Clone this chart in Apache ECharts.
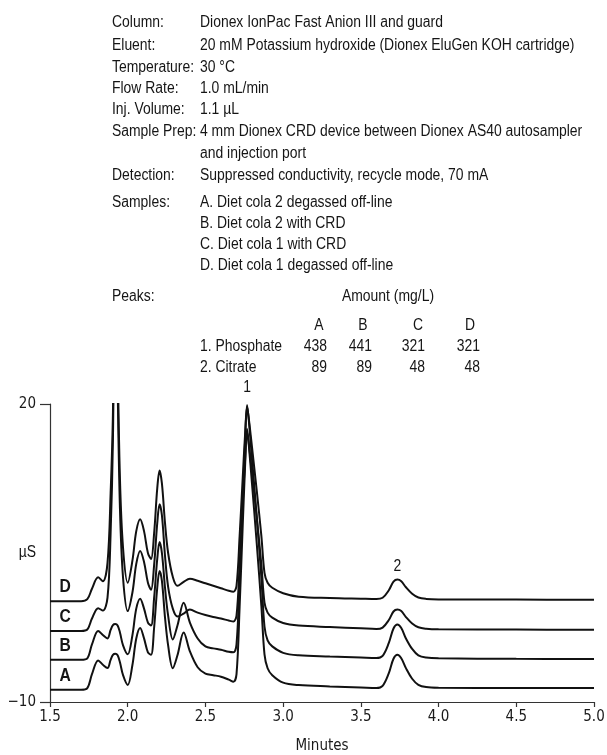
<!DOCTYPE html>
<html><head><meta charset="utf-8">
<script src="https://cdn.jsdelivr.net/npm/echarts@6/dist/echarts.min.js"></script>
<style>html,body{margin:0;padding:0;background:#fff;}#c{width:607px;height:755px;}</style>
</head><body><div id="c"></div>
<script>
const FONT = '"Liberation Sans",Arial,sans-serif';
const AXFONT = '"DejaVu Sans Condensed","Liberation Sans",sans-serif';
const SX = 0.87; // horizontal squeeze to mimic the condensed typeface

// retention time (min)
const times = [1.50,1.70,1.74,1.77,1.81,1.84,1.87,1.89,1.905,1.92,1.935,1.95,1.97,2.00,2.03,2.055,2.08,2.105,2.13,2.15,2.17,2.19,2.205,2.22,2.24,2.26,2.29,2.32,2.36,2.40,2.45,2.50,2.55,2.60,2.65,2.68,2.70,2.72,2.74,2.755,2.768,2.78,2.80,2.83,2.86,2.88,2.90,2.93,3.00,3.10,3.30,3.50,3.60,3.64,3.68,3.71,3.735,3.76,3.79,3.83,3.87,3.92,4.00,4.50,5.00];

// conductivity (µS), offset traces
const traceA = [-8.76,-8.76,-8.6,-7.2,-5.82,-6.25,-6.58,-5.75,-5.25,-5.14,-5.3,-6.0,-7.3,-8.29,-6.3,-3.6,-2.55,-3.6,-5.0,-5.25,-2.5,1.5,3.2,2.2,-1.5,-4.3,-6.6,-5.3,-3.0,-4.9,-6.5,-7.15,-7.3,-7.45,-7.75,-7.95,-7.2,-0.4,7.8,13.7,17.5,15.7,11.9,6.0,-0.35,-5.2,-6.6,-7.3,-8.05,-8.3,-8.43,-8.53,-8.59,-8.37,-7.09,-5.65,-5.25,-5.59,-6.59,-7.66,-8.27,-8.5,-8.57,-8.6,-8.6];
const traceB = [-5.74,-5.74,-5.6,-4.2,-2.85,-3.25,-3.6,-2.75,-2.25,-2.15,-2.3,-3.0,-4.3,-5.2,-3.3,-0.6,0.4,-0.6,-2.0,-2.3,0.5,4.4,6.1,5.0,1.5,-1.3,-3.7,-2.3,0.0,-2.0,-3.6,-4.4,-4.6,-4.75,-4.95,-5.0,-4.2,2.5,10.4,16.2,19.9,18.2,14.4,8.7,2.5,-2.4,-3.8,-4.4,-5.05,-5.3,-5.42,-5.52,-5.57,-5.35,-4.05,-2.6,-2.2,-2.55,-3.6,-4.66,-5.3,-5.52,-5.6,-5.65,-5.67];
const traceC = [-2.85,-2.85,-2.7,-1.6,-0.55,-0.8,0.5,7.0,16.5,38,22,9.5,2.5,-0.85,1.0,3.9,5.2,4.1,2.0,1.3,3.8,8.0,9.9,8.8,4.7,1.6,-0.6,-1.4,-1.1,-0.7,-1.0,-1.25,-1.45,-1.6,-1.8,-1.9,-1.3,3.8,10.0,14.35,17.2,15.9,13.0,8.6,3.8,0.0,-1.0,-1.5,-2.05,-2.3,-2.45,-2.58,-2.65,-2.51,-1.75,-0.89,-0.7,-0.85,-1.45,-2.1,-2.48,-2.62,-2.68,-2.71,-2.72];
const traceD = [0.15,0.15,0.35,1.4,2.55,2.15,4.0,11.0,19.2,42,25,12.5,5.5,2.0,4.2,7.2,8.4,7.2,5.0,4.4,7.0,11.5,13.3,12.0,8.0,5.0,2.6,1.7,2.1,2.4,2.2,1.95,1.7,1.45,1.2,1.1,1.7,6.7,12.6,16.9,19.7,18.4,15.6,11.3,6.7,3.0,2.0,1.5,0.95,0.6,0.47,0.4,0.37,0.49,1.25,2.11,2.32,2.15,1.55,0.9,0.52,0.38,0.33,0.31,0.30];

const sampleNames = ['A','B','C','D'];
const yTickValues = [-10, 20];
const peakLabels = ['1','2'];
const peakPos = [[2.768, 19.9],[3.735, 2.32]];
const sampleLabelTime = 1.597;

const infoLabels = ['Column:','Eluent:','Temperature:','Flow Rate:','Inj. Volume:','Sample Prep:','','Detection:'];
const infoValues = ['Dionex IonPac Fast Anion III and guard','20 mM Potassium hydroxide (Dionex EluGen KOH cartridge)','30 °C','1.0 mL/min','1.1 µL','4 mm Dionex CRD device between Dionex AS40 autosampler','and injection port','Suppressed conductivity, recycle mode, 70 mA'];
const sampleLines = ['A. Diet cola 2 degassed off-line','B. Diet cola 2 with CRD','C. Diet cola 1 with CRD','D. Diet cola 1 degassed off-line'];
const peakNames = ['1. Phosphate','2. Citrate'];
const phosphateAmounts = [438,441,321,321];
const citrateAmounts = [89,89,48,48];

const chart = echarts.init(document.getElementById('c'), null, {renderer:'canvas'});
const traces = [traceA, traceB, traceC, traceD];

chart.setOption({
  animation:false,
  backgroundColor:'#fff',
  grid:{left:50, right:13, top:404, bottom:53, containLabel:false, outerBoundsMode:'none'},
  xAxis:{type:'value', min:1.5, max:5.0, interval:0.5,
    axisLine:{onZero:false, lineStyle:{color:'#333', width:1.2}},
    axisTick:{length:5, lineStyle:{color:'#333', width:1.2}},
    axisLabel:{margin:8, fontFamily:AXFONT, fontSize:15, color:'#1a1a1a', formatter:v=>v.toFixed(1)},
    splitLine:{show:false},
    name:'Minutes', nameLocation:'middle', nameGap:37,
    nameTextStyle:{fontFamily:AXFONT, fontSize:15, color:'#1a1a1a'}
  },
  yAxis:{type:'value', min:-10, max:20,
    axisLine:{show:true, lineStyle:{color:'#333', width:1.2}},
    axisTick:{show:true, length:10, customValues:yTickValues, lineStyle:{color:'#333', width:1.2}},
    axisLabel:{margin:14, customValues:yTickValues, fontFamily:AXFONT, fontSize:15, color:'#1a1a1a',
      formatter:v=> v<0 ? '\u2212'+Math.abs(v) : String(v)},
    splitLine:{show:false}
  },
  series: traces.map((vals, i) => ({
    type:'line', name: sampleNames[i],
    data: times.map((t, k) => [t, vals[k]]),
    showSymbol:false, smooth:0.35, clip:true,
    lineStyle:{color:'#111', width:2}
  }))
});

const g = [];
const txt = (text, x, y, align, font) => g.push({type:'text', x, y, scaleX:SX, silent:true,
  style: {text, fill:'#151515', font: font || ('16px '+FONT), align: align||'left', verticalAlign:'middle'}});
const infoY = [23,45.5,67.5,88.5,110,132,154,176];
infoLabels.forEach((l,i)=>{ if(l) txt(l,112,infoY[i]); txt(infoValues[i],200,infoY[i]); });
txt('Samples:',112,203);
const sampY=[203,224,245,266];
sampleLines.forEach((s,i)=>txt(s,200,sampY[i]));
txt('Peaks:',112,297);
txt('Amount (mg/L)',388,297,'center');
const colC=[319,363,418,470], colR=[327,372,425,480];
sampleNames.forEach((s,i)=>txt(s,colC[i],326,'center'));
txt(peakNames[0],200,347); txt(peakNames[1],200,368);
phosphateAmounts.forEach((v,i)=>txt(String(v),colR[i],347,'right'));
citrateAmounts.forEach((v,i)=>txt(String(v),colR[i],368,'right'));

// labels tied to the data through the chart's scales
traces.forEach((vals,i)=>{
  const p = chart.convertToPixel({gridIndex:0}, [sampleLabelTime, vals[0]]);
  txt(sampleNames[i], p[0], p[1]-14, 'center', 'bold 18px '+FONT);
});
peakPos.forEach((pp,i)=>{
  const p = chart.convertToPixel({gridIndex:0}, pp);
  txt(peakLabels[i], p[0], p[1]-(i===0?17:13), 'center');
});
const mu = chart.convertToPixel({gridIndex:0}, [1.5, 5]);
txt('µS', 27.5, mu[1], 'center');

chart.setOption({graphic: g});
</script></body></html>
